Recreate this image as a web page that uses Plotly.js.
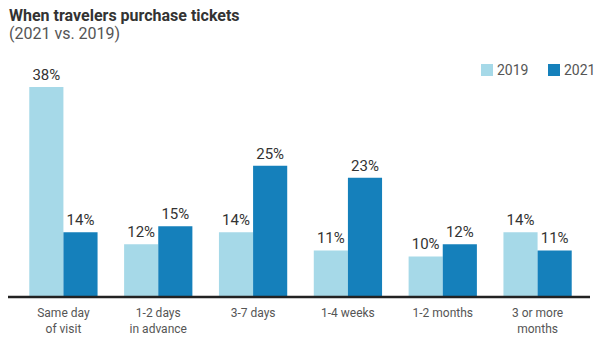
<!DOCTYPE html>
<html><head><meta charset="utf-8">
<script src="https://cdn.plot.ly/plotly-3.0.1.min.js"></script>
<style>html,body{margin:0;padding:0;background:#fff}#c{width:600px;height:340px}</style>
</head><body><div id="c"></div>
<script>
const categories = ["Same day<br>of visit", "1-2 days<br>in advance", "3-7 days", "1-4 weeks", "1-2 months", "3 or more<br>months"];
const values2019 = [38, 12, 14, 11, 10, 14];
const values2021 = [14, 15, 25, 23, 12, 11];
const seriesNames = ["2019", "2021"];
const seriesColors = ['#a6d9e8', '#1580bb'];

const mk = (name, vals, color) => ({
  type: 'bar', name: name, x: categories, y: vals,
  marker: {color: color},
  text: vals.map(v => v + '%'), textposition: 'outside', cliponaxis: false,
  textfont: {family: 'Roboto', size: 15, color: '#333'},
  hoverinfo: 'none'
});

const data = [mk(seriesNames[0], values2019, seriesColors[0]), mk(seriesNames[1], values2021, seriesColors[1])];

// plot area geometry (pixels) for legend placement helpers
const L = 16, R = 15, T = 77, B = 43, W = 600, H = 340;
const pw = W - L - R, ph = H - T - B;
const px = x => (x - L) / pw;
const py = y => (H - B - y) / ph;

const legendX = [481, 548];
const shapes = [{type: 'line', xref: 'paper', yref: 'paper', x0: px(8), x1: px(590), y0: 0, y1: 0,
                 line: {color: '#222', width: 2.5}, layer: 'above'}];
const annotations = [
  {xref: 'paper', yref: 'paper', x: px(7), y: py(16), xanchor: 'left', yanchor: 'middle', showarrow: false,
   text: '<b>When travelers purchase tickets</b>', font: {family: 'Roboto', size: 16, color: '#333'}},
  {xref: 'paper', yref: 'paper', x: px(7), y: py(33), xanchor: 'left', yanchor: 'middle', showarrow: false,
   text: '(2021 vs. 2019)', font: {family: 'Roboto', size: 16, color: '#555'}}
];
seriesNames.forEach((n, i) => {
  shapes.push({type: 'rect', xref: 'paper', yref: 'paper', x0: px(legendX[i]), x1: px(legendX[i] + 12),
               y0: py(76), y1: py(64), fillcolor: seriesColors[i], line: {width: 0}});
  annotations.push({xref: 'paper', yref: 'paper', x: px(legendX[i] + 14), y: py(70), xanchor: 'left', yanchor: 'middle',
                    showarrow: false, text: n, font: {family: 'Roboto', size: 14, color: '#555'}});
});

const layout = {
  width: W, height: H,
  margin: {l: L, r: R, t: T, b: B},
  paper_bgcolor: '#fff', plot_bgcolor: '#fff',
  font: {family: 'Roboto', color: '#555'},
  barmode: 'group', bargap: 0.28, bargroupgap: 0,
  showlegend: false,
  xaxis: {type: 'category', showgrid: false, zeroline: false, showline: false, ticks: '', ticklabelstandoff: 7,
          tickfont: {family: 'Roboto', size: 12, color: '#555'}, fixedrange: true},
  yaxis: {range: [3.3, 39.66], showgrid: false, zeroline: false, showticklabels: false, showline: false, fixedrange: true},
  shapes: shapes,
  annotations: annotations
};

Plotly.newPlot('c', data, layout, {displayModeBar: false, staticPlot: true});
</script></body></html>
